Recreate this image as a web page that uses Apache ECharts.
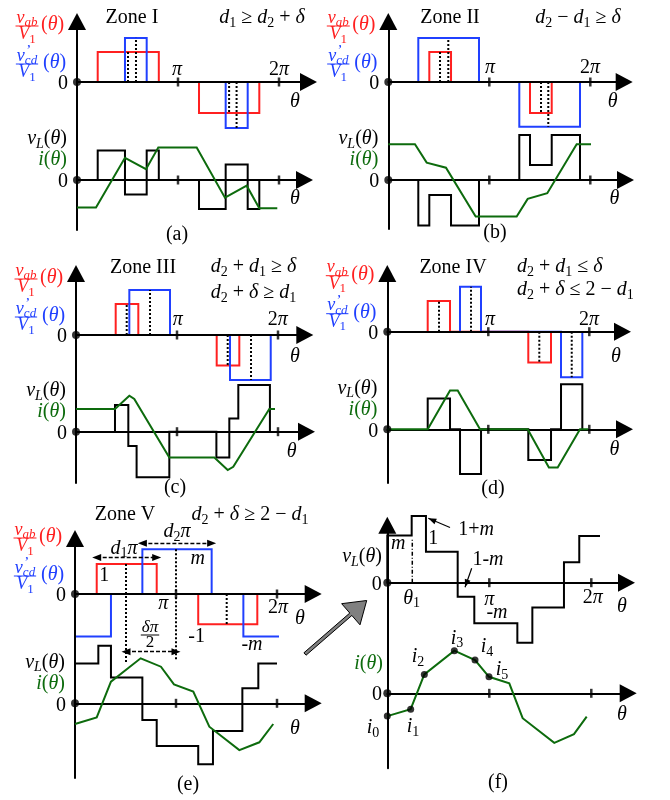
<!DOCTYPE html>
<html><head><meta charset="utf-8">
<script src="https://cdn.jsdelivr.net/npm/echarts@6/dist/echarts.min.js"></script>
<style>html,body{margin:0;padding:0;background:#fff}#c{width:670px;height:800px}</style>
</head><body><div id="c"></div>
<script>
// ---------------- DATA (θ in units of π, amplitudes in units of V1) ----------------
const tickVals = [1, 2];
const tickLabels = ['π', '2π'];

// Zone I (a)  step lists: [θ where level starts, level]; a null level marks the end
const vabA = [[0.205, 1.0], [0.81, 0], [1.208, -1.03], [1.805, 0]];
const vcdA = [[0.475, 1.47], [0.69, 0], [1.472, -1.53], [1.69, 0]];
const dotA = [[0.505, 0, 1.0], [0.584, 0, 1.47], [1.506, 0, -1.03], [1.58, 0, -1.53]];
const vLA  = [[0.205, 0.98], [0.475, -0.48], [0.69, 0.98], [0.81, 0], [1.208, -0.97], [1.472, 0.52], [1.69, -0.97], [1.805, 0]];
const iA   = [[0, -0.92], [0.188, -0.92], [0.475, 0.74], [0.683, 0.36], [0.805, 1.08], [1.185, 1.08], [1.465, -0.59], [1.68, -0.19], [1.805, -0.94], [1.983, -0.94]];

// Zone II (b)
const vabB = [[0.406, 1.0], [0.621, 0], [1.403, -1.03], [1.618, 0]];
const vcdB = [[0.297, 1.47], [0.898, 0], [1.297, -1.49], [1.898, 0]];
const dotB = [[0.512, 0, 1.0], [0.594, 0, 1.47], [1.512, 0, -1.03], [1.584, 0, -1.49]];
const vLB  = [[0.297, -1.52], [0.406, -0.5], [0.621, -1.52], [0.898, 0], [1.297, 1.5], [1.403, 0.5], [1.618, 1.5], [1.898, 0]];
const iB   = [[0, 1.19], [0.264, 1.19], [0.38, 0.58], [0.571, 0.41], [0.865, -1.22], [1.271, -1.22], [1.38, -0.63], [1.574, -0.44], [1.865, 1.19], [2.007, 1.19]];

// Zone III (c)
const vabC = [[0.393, 1.03], [0.617, 0], [1.393, -1.02], [1.617, 0]];
const vcdC = [[0.528, 1.5], [0.931, 0], [1.525, -1.5], [1.928, 0]];
const dotC = [[0.502, 0, 1.03], [0.733, 0, 1.5], [1.502, 0, -1.02], [1.733, 0, -1.5]];
const vLC  = [[0.386, 0.89], [0.518, -0.48], [0.6, -1.52], [0.924, 0], [1.39, -0.86], [1.518, 0.44], [1.607, 1.56], [1.92, 0]];
const iC   = [[0, 0.76], [0.386, 0.76], [0.528, 1.2], [0.577, 1.09], [0.924, -0.86], [1.37, -0.86], [1.502, -1.28], [1.557, -1.17], [1.914, 0.76], [1.97, 0.76]];

// Zone IV (d)
const vabD = [[0.4, 1.02], [0.621, 0], [1.396, -1.03], [1.621, 0]];
const vcdD = [[0.72, 1.5], [0.928, 0], [1.72, -1.52], [1.931, 0]];
const dotD = [[0.512, 0, 1.02], [0.829, 0, 1.5], [1.505, 0, -1.03], [1.826, 0, -1.52]];
const vLD  = [[0.4, 1.03], [0.621, 0], [0.72, -1.49], [0.928, 0], [1.396, -1.02], [1.621, 0], [1.72, 1.5], [1.931, 0]];
const iD   = [[0, 0], [0.4, 0], [0.621, 1.29], [0.697, 1.29], [0.918, 0], [1.39, 0], [1.6, -1.27], [1.687, -1.27], [1.908, 0], [1.99, 0]];

// Zone V (e)
const vabE = [[0.215, 1.0], [0.809, 0], [1.22, -1.01], [1.805, 0]];
const vcdE = [[0, -1.42], [0.356, 0], [0.667, 1.49], [1.353, 0], [1.667, -1.42], [2.02, null]];
const dotE = [[0.505, 1.0, -2.29], [1.0, 1.49, -2.2], [1.502, 0, -1.01]];
const arrETop = [[0.215, 0.809, 1.22], [0.667, 1.353, 1.69]];   // d1π, d2π (top-plot units)
const arrEBot = [[0.505, 1.0, 1.72]];                           // δπ/2 (lower-plot units)
const vLE  = [[0, 1.33], [0.231, 1.92], [0.356, 0.86], [0.667, -0.56], [0.809, -1.42], [1.22, -2.03], [1.366, -0.92], [1.657, 0.5], [1.815, 1.33], [2.0, null]];
const iE   = [[0, -0.69], [0.215, -0.47], [0.356, 0.72], [0.65, 1.5], [0.851, 1.22], [0.98, 0.63], [1.171, 0.39], [1.33, -0.78], [1.627, -1.56], [1.825, -1.3], [1.963, -0.69]];

// (f) detail
const vLF  = [[0, 1.57], [0.239, 2.22], [0.379, 1.03], [0.69, -0.47], [0.853, -1.35], [1.275, -2.0], [1.422, -0.83], [1.732, 0.68], [1.882, 1.56], [2.085, null]];
const th1F = [0.245, 0, 1.43];
const iF   = [[0, -0.76], [0.229, -0.53], [0.363, 0.63], [0.657, 1.42], [0.86, 1.11], [0.997, 0.55], [1.196, 0.33], [1.327, -0.83], [1.637, -1.65], [1.83, -1.36], [1.955, -0.78]];
const iFLabels = ['i_0', 'i_1', 'i_2', 'i_3', 'i_4', 'i_5'];

// ---------------- LAYOUT ----------------
const LAY = {
  a: {x0: 77, ppp: 101, yT: 82, yB: 180, tip: 13, bot: 230, split: 135, xtT: 317, xtB: 313},
  b: {x0: 388.3, ppp: 101, yT: 82, yB: 180, tip: 13, bot: 229, split: 135, xtT: 632.7, xtB: 634},
  c: {x0: 76, ppp: 101, yT: 335, yB: 431.7, tip: 265, bot: 483, split: 388, xtT: 313.3, xtB: 315},
  d: {x0: 387.3, ppp: 101, yT: 331.7, yB: 429.3, tip: 265, bot: 483, split: 385, xtT: 631, xtB: 633},
  e: {x0: 75, ppp: 101, yT: 594, yB: 703.3, tip: 530, bot: 778, split: 650, xtT: 321.7, xtB: 321.7},
  f: {x0: 387.3, ppp: 102, yT: 582.7, yB: 693.3, tip: 516.7, bot: 768.3, split: 645, xtT: 635, xtB: 636.7}
};
const PY = 30, AH = 8.5;
const RED = '#ff2020', BLUE = '#2040ff', GREEN = '#0d6b0d', BLK = '#000';

// ---------------- helpers ----------------
function stepPts(s) {
  const p = [[s[0][0], 0], [s[0][0], s[0][1]]];
  for (let k = 1; k < s.length; k++) {
    const x = s[k][0], l = s[k][1], prev = s[k - 1][1];
    p.push([x, prev]);
    if (l !== null) p.push([x, l]);
  }
  return p;
}
const grids = [], xAxes = [], yAxes = [], series = [];
function xa(gi, max) {
  return {gridIndex: gi, type: 'value', min: 0, max: max, z: 2,
    axisLine: {show: true, onZero: true, lineStyle: {color: BLK, width: 2}, symbol: ['none', 'triangle'], symbolSize: [18, 17]},
    axisTick: {show: false}, axisLabel: {show: false}, splitLine: {show: false}};
}
function ya(gi, min, max, arrow) {
  return {gridIndex: gi, type: 'value', min: min, max: max, z: 2,
    axisLine: {show: true, onZero: true, lineStyle: {color: BLK, width: 2}, symbol: arrow ? ['none', 'triangle'] : 'none', symbolSize: [18, 17]},
    axisTick: {show: false}, axisLabel: {show: false}, splitLine: {show: false}};
}
function line(gi, pts, color, width, z, type) {
  series.push({type: 'line', xAxisIndex: gi, yAxisIndex: gi, data: pts, symbol: 'none', showSymbol: false,
    clip: false, silent: true, z: z, animation: false,
    lineStyle: {color: color, width: width, type: type || 'solid', cap: 'butt', join: 'miter'}});
}
function marks(gi) {
  series.push({type: 'scatter', xAxisIndex: gi, yAxisIndex: gi, data: tickVals.map(v => [v, 0]), symbol: 'rect',
    symbolSize: [2.5, 9], itemStyle: {color: BLK}, z: 5, silent: true, clip: false, animation: false});
  series.push({type: 'scatter', xAxisIndex: gi, yAxisIndex: gi, data: [[0, 0]], symbol: 'circle',
    symbolSize: 8, itemStyle: {color: BLK}, z: 5, silent: true, clip: false, animation: false});
}
function dimArrows(gi, arr) {
  series.push({type: 'line', xAxisIndex: gi, yAxisIndex: gi, data: [], silent: true, clip: false, z: 4, animation: false,
    markLine: {silent: true, animation: false, symbol: ['triangle', 'triangle'], symbolSize: [7, 9], label: {show: false},
      lineStyle: {color: BLK, width: 1.3, type: [4, 2]},
      data: arr.map(a => [{coord: [a[0], a[2]]}, {coord: [a[1], a[2]]}])}});
}

const keys = ['a', 'b', 'c', 'd', 'e', 'f'];
keys.forEach((k, idx) => {
  const L = LAY[k];
  const tTop = L.tip + AH;
  grids.push({left: L.x0, top: tTop, width: L.xtT - AH - L.x0, height: L.split - tTop});
  xAxes.push(xa(2 * idx, (L.xtT - AH - L.x0) / L.ppp));
  yAxes.push(ya(2 * idx, -(L.split - L.yT) / PY, (L.yT - tTop) / PY, true));
  grids.push({left: L.x0, top: L.split, width: L.xtB - AH - L.x0, height: L.bot - L.split});
  xAxes.push(xa(2 * idx + 1, (L.xtB - AH - L.x0) / L.ppp));
  yAxes.push(ya(2 * idx + 1, -(L.bot - L.yB) / PY, (L.yB - L.split) / PY, false));
  marks(2 * idx); marks(2 * idx + 1);
});

const P = [
  [vabA, vcdA, dotA, vLA, iA],
  [vabB, vcdB, dotB, vLB, iB],
  [vabC, vcdC, dotC, vLC, iC],
  [vabD, vcdD, dotD, vLD, iD],
  [vabE, vcdE, dotE, vLE, iE]
];
P.forEach((p, idx) => {
  const gt = 2 * idx, gb = 2 * idx + 1;
  line(gt, stepPts(p[0]), RED, 2, 1);
  line(gt, stepPts(p[1]), BLUE, 2, 1);
  p[2].forEach(d => line(gt, [[d[0], d[1]], [d[0], d[2]]], BLK, 2, 1, [2, 2]));
  line(gb, stepPts(p[3]), BLK, 2, 1);
  line(gb, p[4], GREEN, 2, 3);
});
// (e) dimension arrows
dimArrows(8, arrETop);
dimArrows(9, arrEBot);
// (f)
line(10, stepPts(vLF), BLK, 2, 1);
line(10, [[th1F[0], th1F[1]], [th1F[0], th1F[2]]], BLK, 1.5, 1, [4, 2, 1, 2]);
line(11, iF, GREEN, 2, 3);
series.push({type: 'scatter', xAxisIndex: 11, yAxisIndex: 11, data: iF.slice(0, 6), symbol: 'circle', symbolSize: 7,
  itemStyle: {color: BLK}, z: 5, silent: true, clip: false, animation: false});

// ---------------- text ----------------
const cv = document.createElement('canvas').getContext('2d');
const FF = '"Liberation Serif","Times New Roman",serif';
function fnt(sz, it) { return (it ? 'italic ' : '') + sz + 'px ' + FF; }
function mw(t, sz, it) { cv.font = fnt(sz, it); return cv.measureText(t).width; }
const G = [];
function tok(str, S, plain) {
  const out = []; let i = 0;
  if (plain) return [{t: str, sz: S, it: false, dy: 0}];
  while (i < str.length) {
    const c = str[i];
    if (c === '_') {
      let g;
      if (str[i + 1] === '{') { const j = str.indexOf('}', i); g = str.slice(i + 2, j); i = j + 1; }
      else { g = str[i + 1]; i += 2; }
      for (const ch of g) out.push({t: ch, sz: Math.round(S * 0.7), it: /[A-Za-z]/.test(ch), dy: S * 0.27});
      continue;
    }
    out.push({t: c, sz: S, it: /[A-Za-zθδπ]/.test(c), dy: 0});
    i++;
  }
  return out;
}
function mathW(toks) { return toks.reduce((a, k) => a + mw(k.t, k.sz, k.it), 0); }
function math(str, x, y, S, col, align, plain) {
  const toks = tok(str, S, plain);
  const W = mathW(toks);
  let cx = align === 'center' ? x - W / 2 : align === 'right' ? x - W : x;
  for (const k of toks) {
    const w = mw(k.t, k.sz, k.it);
    if (k.t !== ' ') G.push({type: 'text', x: cx, y: y + k.dy, silent: true, z: 100,
      style: {text: k.t, font: fnt(k.sz, k.it), fontSize: k.sz, fontFamily: FF, fontStyle: k.it ? 'italic' : 'normal',
        fill: col, textAlign: 'left', textVerticalAlign: 'middle', align: 'left', verticalAlign: 'middle'}});
    cx += w;
  }
  return W;
}
function frac(num, den, cx, by, S, col) {
  const W = Math.max(mathW(tok(num, S)), mathW(tok(den, S))) + 2;
  math(num, cx, by - S * 0.45, S, col, 'center');
  math(den, cx, by + S * 0.47, S, col, 'center');
  G.push({type: 'line', silent: true, z: 100, shape: {x1: cx - W / 2, y1: by, x2: cx + W / 2, y2: by}, style: {stroke: col, lineWidth: 1}});
}
function arrowHead(x1, y1, x2, y2, len, half, col) {
  const dx = x2 - x1, dy = y2 - y1, d = Math.hypot(dx, dy), ux = dx / d, uy = dy / d;
  const bx = x2 - ux * len, by = y2 - uy * len;
  G.push({type: 'polygon', silent: true, z: 100, shape: {points: [[x2, y2], [bx - uy * half, by + ux * half], [bx + uy * half, by - ux * half]]}, style: {fill: col}});
}
function pointer(x1, y1, x2, y2) {
  G.push({type: 'line', silent: true, z: 100, shape: {x1: x1, y1: y1, x2: x2, y2: y2}, style: {stroke: BLK, lineWidth: 1.2}});
  arrowHead(x1, y1, x2, y2, 8, 3, BLK);
}

const S = 20;
// left labels a-e
['a', 'b', 'c', 'd', 'e'].forEach(k => {
  const L = LAY[k];
  frac('v_{ab}', 'V_1', L.x0 - 50, L.yT - 56, 18, RED);
  math('(θ)', L.x0 - 36, L.yT - 57, S, RED, 'left');
  math(',', L.x0 - 50, L.yT - 39, 15, BLUE, 'left', true);
  frac('v_{cd}', 'V_1', L.x0 - 50, L.yT - 18, 18, BLUE);
  math('(θ)', L.x0 - 34, L.yT - 19, S, BLUE, 'left');
  math('v_L(θ)', L.x0 - 10, L.yB - 41, S, BLK, 'right');
  math('i(θ)', L.x0 - 10, L.yB - 20, S, GREEN, 'right');
  math('0', L.x0 - 14, L.yT + 2, S, BLK, 'center', true);
  math('0', L.x0 - 14, L.yB + 2, S, BLK, 'center', true);
});
// (f) left labels
math('v_L(θ)', 382, 556.7, S, BLK, 'right');
math('i(θ)', 383, 663.3, S, GREEN, 'right');
math('0', 376.7, 585, S, BLK, 'center', true);
math('0', 377, 695, S, BLK, 'center', true);

// θ labels
[[295, 101.7], [295, 198.3], [612.7, 101.7], [614.3, 198.3], [295, 356.7], [291.7, 451.7],
 [616, 356.7], [614.3, 449.3], [300, 618.3], [295, 728.3], [622, 607], [622, 715]]
  .forEach(p => math('θ', p[0], p[1], S, BLK, 'center'));
// tick labels
const tickPos = [
  [[177, 70], [279, 70]], [[490, 68], [590, 68]], [[177.7, 320], [277.7, 320]],
  [[490, 320], [589, 320]], [[163.3, 603.3], [278, 608]], [[489.3, 600], [592.7, 598]]
];
tickPos.forEach(pp => pp.forEach((p, j) => math(tickLabels[j], p[0], p[1], S, BLK, 'center')));

// titles
math('Zone I', 132, 18, S, BLK, 'center', true);
math('d_1 ≥ d_2 + δ', 262, 18, S, BLK, 'center');
math('Zone II', 450, 18, S, BLK, 'center', true);
math('d_2 − d_1 ≥ δ', 578, 18, S, BLK, 'center');
math('Zone III', 143, 268, S, BLK, 'center', true);
math('d_2 + d_1 ≥ δ', 253.5, 266.7, S, BLK, 'center');
math('d_2 + δ ≥ d_1', 253.5, 293, S, BLK, 'center');
math('Zone IV', 453, 268, S, BLK, 'center', true);
math('d_2 + d_1 ≤ δ', 517, 267, S, BLK, 'left');
math('d_2 + δ ≤ 2 − d_1', 517, 290, S, BLK, 'left');
math('Zone V', 125, 515, S, BLK, 'center', true);
math('d_2 + δ ≥ 2 − d_1', 250, 515, S, BLK, 'center');

// panel letters
[['(a)', 177, 235], ['(b)', 495, 233], ['(c)', 175, 488], ['(d)', 493, 489], ['(e)', 188, 785], ['(f)', 498, 783]]
  .forEach(p => math(p[0], p[1], p[2], S, BLK, 'center', true));

// (e) annotations
math('d_1π', 124, 548.3, S, BLK, 'center');
math('d_2π', 177, 531.7, S, BLK, 'center');
math('1', 104.3, 576, S, BLK, 'center');
math('m', 197.7, 558.3, S, BLK, 'center');
math('-1', 196.7, 637, S, BLK, 'center');
math('-m', 252, 645, S, BLK, 'center');
frac('δπ', '2', 150, 635, 17, BLK);

// (f) annotations
math('m', 398.3, 543.3, S, BLK, 'center');
math('1', 433.3, 538.3, S, BLK, 'center');
math('1+m', 476, 530, S, BLK, 'center');
math('1-m', 488, 560, S, BLK, 'center');
math('θ_1', 411.7, 598.3, S, BLK, 'center');
math('-m', 497, 613, S, BLK, 'center');
pointer(450, 527.5, 428.3, 518.3);
pointer(471.7, 568.3, 465, 587.3);
[[373, 727.7], [413, 726.7], [418, 656.7], [457, 638.3], [487, 646.7], [502, 670]]
  .forEach((p, j) => math(iFLabels[j], p[0], p[1], S, BLK, 'center'));

// big grey arrow from (e) to (f)
(function () {
  const T = [305, 654], Pt = [366.7, 600.5];
  const dx = Pt[0] - T[0], dy = Pt[1] - T[1], d = Math.hypot(dx, dy), ux = dx / d, uy = dy / d;
  const nx = -uy, ny = ux;
  const B = [Pt[0] - ux * 21, Pt[1] - uy * 21];
  const sw = 1.6, hw = 14;
  const pts = [[T[0] + nx * sw, T[1] + ny * sw], [B[0] + nx * sw, B[1] + ny * sw], [B[0] + nx * hw, B[1] + ny * hw], Pt,
    [B[0] - nx * hw, B[1] - ny * hw], [B[0] - nx * sw, B[1] - ny * sw], [T[0] - nx * sw, T[1] - ny * sw]];
  G.push({type: 'polygon', silent: true, z: 100, shape: {points: pts}, style: {fill: '#808080', stroke: BLK, lineWidth: 1}});
})();

const chart = echarts.init(document.getElementById('c'), null, {renderer: 'canvas', width: 670, height: 800});
chart.setOption({
  animation: false,
  backgroundColor: '#fff',
  grid: grids.map(g => Object.assign({containLabel: false, show: false}, g)),
  xAxis: xAxes,
  yAxis: yAxes,
  series: series,
  graphic: {elements: G}
});
</script>
</body></html>
